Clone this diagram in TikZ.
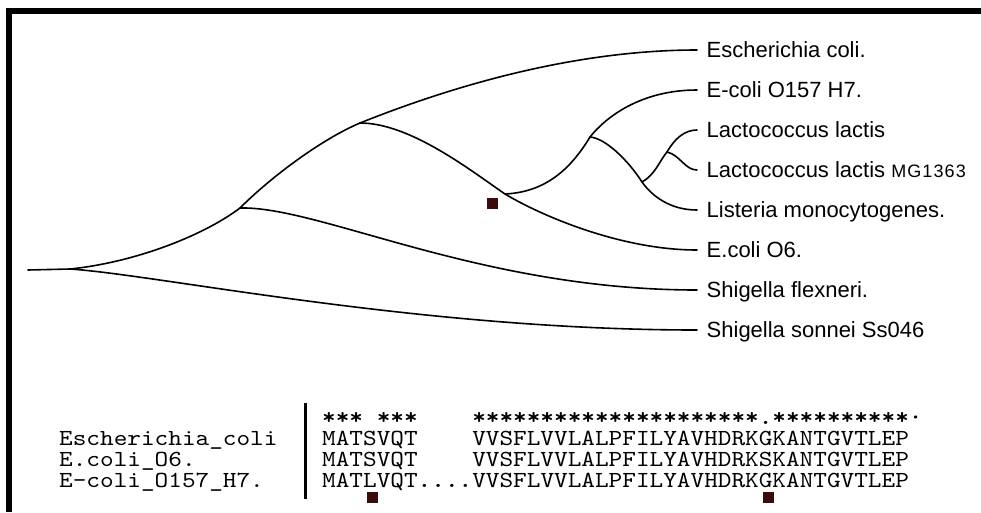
\documentclass[tikz,border=0pt]{standalone}
\usepackage{fontspec}
\newfontfamily\taxonfont{Liberation Sans}
\newfontfamily\seqfont{lmmono10-regular.otf}[FakeStretch=1.13,BoldFont=lmmonolt10-bold.otf,BoldFeatures={FakeStretch=1.13}]
\definecolor{snp}{HTML}{3A0C0C}

\begin{document}
\begin{tikzpicture}[x=1pt,y=-1pt,
    branch/.style={line width=1.6pt,line cap=round},
    taxon/.style={anchor=west,inner xsep=9.5pt,inner ysep=0pt,text height=15.8pt,text depth=0pt,
      font=\taxonfont\fontsize{22}{22}\selectfont},
    seqtext/.style={anchor=base west,inner sep=0pt,font=\seqfont\fontsize{23}{23}\selectfont},
    snpbox/.style={fill=snp,minimum size=11pt,inner sep=0pt}]
  \useasboundingbox (0,0) rectangle (981,512);
  % frame
  \fill (6,8) rectangle (981,14);
  \fill (6,8) rectangle (12,512);

  % leaves
  \foreach \name/\txt [count=\i from 0] in {ecoli/Escherichia coli., o157/E-coli O157 H7.,
      lact/Lactococcus lactis, mg/{Lactococcus lactis {\fontsize{18}{18}\selectfont\addfontfeatures{LetterSpace=6}MG1363}},
      list/Listeria monocytogenes., o6/E.coli O6., flex/Shigella flexneri., sonnei/Shigella sonnei Ss046}
    \node[taxon] (\name) at (697,{50+40*\i}) {\txt};

  % inner nodes
  \coordinate (r) at (28,270);
  \coordinate (n0) at (70,269);
  \coordinate (n1) at (240,208);
  \coordinate (n2) at (360,123);
  \coordinate (n3) at (505,194);
  \coordinate (n4) at (590,137);
  \coordinate (n5) at (642,182);
  \coordinate (n6) at (667,152);

  \draw[branch] (r) -- (n0);
  \draw[branch] (n0) .. controls (130,263) and (200,238) .. (n1)
    .. controls (270,178) and (320,140) .. (n2)
    .. controls (430,95) and (560,50) .. (ecoli.west);
  \draw[branch] (n1) .. controls (320,206) and (480,290) .. (flex.west);
  \draw[branch] (n0) .. controls (160,275) and (420,330) .. (sonnei.west);
  \draw[branch] (n2) .. controls (410,123) and (470,170) .. (n3)
    .. controls (540,215) and (620,250) .. (o6.west);
  \draw[branch] (n3) .. controls (545,192) and (570,170) .. (n4)
    .. controls (605,118) and (640,90) .. (o157.west);
  \draw[branch] (n4) .. controls (605,138) and (628,160) .. (n5)
    .. controls (652,196) and (670,210) .. (list.west);
  \draw[branch] (n5) .. controls (655,175) and (660,160) .. (n6)
    .. controls (675,138) and (685,130) .. (lact.west);
  \draw[branch] (n6) .. controls (680,155) and (685,170) .. (mg.west);

  \node[snpbox] (m0) at (492.5,203.5) {};

  % alignment
  \node[seqtext] (nm1) at (59,445) {Escherichia\_coli};
  \node[seqtext] (nm2) at (59,466) {E.coli\_O6.};
  \node[seqtext] (nm3) at (59,487) {E-coli\_O157\_H7.};
  \coordinate (bartop) at (305,403);
  \coordinate (barbot) at (305,499);
  \draw[line width=3pt] (bartop) -- (barbot);
  \node[seqtext] (cons) at (322,424) {\bfseries ***~***~~~~*********************.**********·};
  \node[seqtext] (sq1) at (322,445) {MATSVQT~~~~VVSFLVVLALPFILYAVHDRKGKANTGVTLEP};
  \node[seqtext] (sq2) at (322,466) {MATSVQT~~~~VVSFLVVLALPFILYAVHDRKSKANTGVTLEP};
  \node[seqtext] (sq3) at (322,487) {MATLVQT{\bfseries ....}VVSFLVVLALPFILYAVHDRKGKANTGVTLEP};
  \node[snpbox] (m1) at (372,497.5) {};
  \node[snpbox] (m2) at (768,497.5) {};
\end{tikzpicture}
\end{document}
